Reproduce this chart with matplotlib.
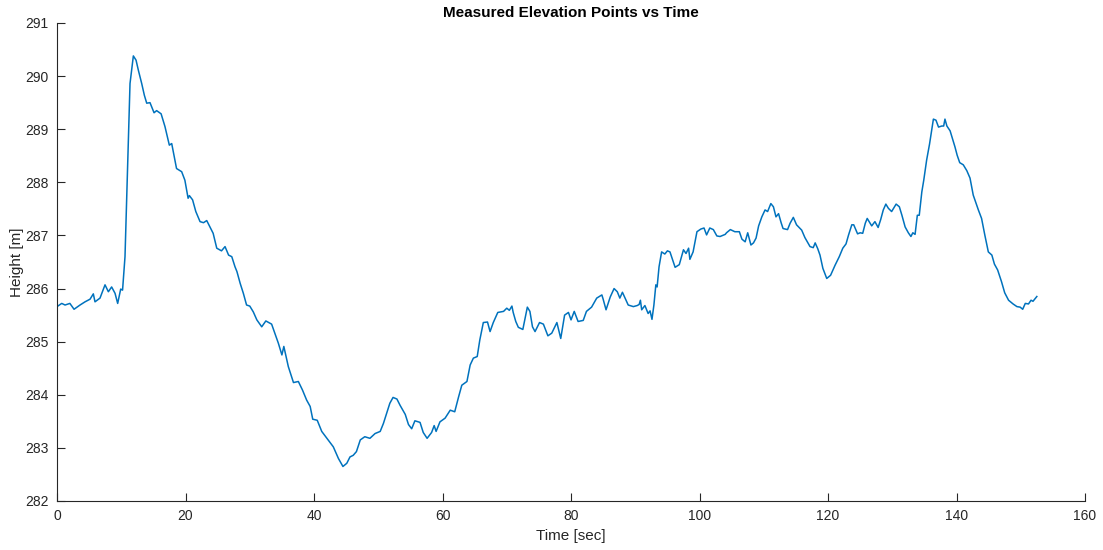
import matplotlib
matplotlib.use("Agg")
import matplotlib.pyplot as plt

# values
time_s = [0.0, 0.73, 1.25, 2.0, 2.65, 3.58, 4.36, 5.14, 5.65, 5.91, 6.69, 7.47, 7.99, 8.5, 9.03,
          9.44, 9.91, 10.2, 10.58, 10.95, 11.36, 11.88, 12.3, 12.66, 13.18, 13.59, 13.96, 14.47,
          15.1, 15.5, 16.2, 16.8, 17.48, 17.85, 18.6, 19.4, 19.9, 20.4, 20.6, 21.1, 21.6, 22.26,
          22.8, 23.3, 23.8, 24.3, 24.86, 25.6, 26.15, 26.7, 27.2, 27.7, 28.0, 28.5, 29.0, 29.5,
          30.0, 30.55, 31.1, 31.86, 32.5, 33.4, 33.9, 34.45, 35.0, 35.3, 36.0, 36.8, 37.56, 38.2,
          38.85, 39.4, 39.8, 40.5, 41.2, 42.0, 43.0, 43.8, 44.5, 45.1, 45.6, 46.1, 46.6, 47.2,
          47.9, 48.7, 49.5, 50.3, 50.8, 51.3, 51.8, 52.3, 52.9, 53.4, 54.2, 54.7, 55.2, 55.7,
          56.5, 57.0, 57.6, 58.3, 58.7, 59.0, 59.6, 60.4, 61.2, 61.9, 62.5, 63.0, 63.8, 64.3,
          64.8, 65.4, 65.8, 66.35, 67.0, 67.4, 67.9, 68.6, 69.5, 70.0, 70.4, 70.8, 71.0, 71.4,
          71.8, 72.5, 72.8, 73.2, 73.6, 74.0, 74.4, 75.1, 75.7, 76.4, 77.0, 77.8, 78.4, 79.0,
          79.6, 80.0, 80.5, 81.1, 81.9, 82.4, 83.2, 84.0, 84.4, 84.8, 85.0, 85.45, 86.1, 86.7,
          87.2, 87.6, 88.0, 88.9, 89.7, 90.3, 90.6, 90.8, 91.0, 91.5, 92.0, 92.3, 92.6, 92.9,
          93.2, 93.4, 93.7, 94.1, 94.6, 95.0, 95.4, 96.2, 96.85, 97.5, 97.9, 98.3, 98.5, 99.0,
          99.6, 100.2, 100.7, 101.1, 101.6, 102.15, 102.7, 103.2, 104.0, 104.2, 104.8, 105.5,
          106.2, 106.6, 107.1, 107.5, 108.0, 108.4, 108.8, 109.2, 109.7, 110.2, 110.6, 111.1,
          111.5, 111.9, 112.3, 112.7, 113.0, 113.7, 114.1, 114.6, 115.1, 115.9, 116.4, 117.2,
          117.7, 118.0, 118.4, 118.75, 119.2, 119.8, 120.4, 121.1, 121.75, 122.3, 122.8, 123.2,
          123.7, 124.0, 124.6, 125.0, 125.4, 125.8, 126.1, 126.8, 127.3, 127.8, 128.2, 128.6,
          129.0, 129.4, 129.9, 130.6, 131.1, 131.5, 132.0, 132.5, 132.9, 133.2, 133.55, 133.9,
          134.2, 134.6, 134.9, 135.35, 135.8, 136.1, 136.4, 136.8, 137.2, 137.7, 138.0, 138.2,
          138.5, 139.0, 139.4, 139.75, 140.1, 140.5, 141.05, 141.6, 142.1, 142.6, 143.4, 143.9,
          144.4, 144.95, 145.5, 145.9, 146.4, 147.0, 147.5, 148.1, 148.8, 149.4, 149.9, 150.3,
          150.7, 151.2, 151.6, 151.9, 152.5]
height_m = [285.66, 285.72, 285.69, 285.72, 285.61, 285.69, 285.75, 285.80, 285.90, 285.75,
            285.82, 286.07, 285.94, 286.03, 285.91, 285.72, 285.99, 285.97, 286.60, 288.17,
            289.86, 290.38, 290.30, 290.11, 289.86, 289.64, 289.49, 289.50, 289.31, 289.35,
            289.29, 289.05, 288.70, 288.73, 288.26, 288.20, 288.04, 287.70, 287.75, 287.67,
            287.45, 287.26, 287.24, 287.28, 287.16, 287.04, 286.76, 286.71, 286.79, 286.63,
            286.60, 286.41, 286.32, 286.10, 285.91, 285.69, 285.67, 285.56, 285.41, 285.28,
            285.39, 285.33, 285.16, 284.97, 284.75, 284.91, 284.53, 284.23, 284.25, 284.09,
            283.90, 283.78, 283.54, 283.52, 283.31, 283.18, 283.02, 282.80, 282.65, 282.71,
            282.83, 282.86, 282.93, 283.15, 283.21, 283.18, 283.27, 283.31, 283.46, 283.65,
            283.84, 283.95, 283.92, 283.80, 283.63, 283.44, 283.36, 283.51, 283.48, 283.29,
            283.18, 283.29, 283.42, 283.31, 283.49, 283.56, 283.71, 283.68, 283.96, 284.18,
            284.25, 284.56, 284.69, 284.72, 285.03, 285.36, 285.37, 285.19, 285.36, 285.55,
            285.57, 285.63, 285.59, 285.67, 285.55, 285.38, 285.27, 285.23, 285.41, 285.65,
            285.57, 285.28, 285.19, 285.36, 285.33, 285.11, 285.16, 285.36, 285.06, 285.50,
            285.55, 285.41, 285.57, 285.38, 285.40, 285.57, 285.65, 285.82, 285.85, 285.88,
            285.80, 285.60, 285.84, 286.00, 285.94, 285.82, 285.93, 285.69, 285.66, 285.68,
            285.70, 285.78, 285.60, 285.68, 285.53, 285.58, 285.42, 285.69, 286.07, 286.03,
            286.41, 286.69, 286.65, 286.71, 286.69, 286.40, 286.45, 286.73, 286.66, 286.76,
            286.55, 286.69, 287.07, 287.12, 287.14, 287.01, 287.14, 287.11, 286.99, 286.98,
            287.02, 287.05, 287.11, 287.07, 287.07, 286.93, 286.88, 287.05, 286.82, 286.86,
            286.95, 287.18, 287.35, 287.48, 287.45, 287.60, 287.54, 287.35, 287.41, 287.24,
            287.13, 287.11, 287.23, 287.34, 287.20, 287.10, 286.96, 286.79, 286.77, 286.86,
            286.75, 286.63, 286.38, 286.19, 286.25, 286.44, 286.60, 286.76, 286.84, 287.01,
            287.20, 287.20, 287.03, 287.05, 287.04, 287.23, 287.32, 287.18, 287.26, 287.15,
            287.30, 287.48, 287.59, 287.51, 287.45, 287.59, 287.54, 287.38, 287.16, 287.05,
            286.98, 287.05, 287.02, 287.38, 287.38, 287.82, 288.04, 288.42, 288.72, 288.95,
            289.19, 289.17, 289.04, 289.06, 289.06, 289.19, 289.06, 288.97, 288.81, 288.67,
            288.51, 288.37, 288.33, 288.22, 288.08, 287.76, 287.48, 287.32, 287.01, 286.69,
            286.63, 286.46, 286.35, 286.13, 285.92, 285.78, 285.71, 285.66, 285.65, 285.61,
            285.72, 285.71, 285.78, 285.76, 285.85]

x_ticks = list(range(0, 161, 20))
y_ticks = list(range(282, 292))

plt.rcParams['font.family'] = ['Liberation Sans', 'DejaVu Sans']
axis_col = '#262626'

fig = plt.figure(figsize=(11.03, 5.5), dpi=100)
ax = fig.add_axes([0.0517, 0.0891, 0.932, 0.8691])

ax.plot(time_s, height_m, color='#0072BD', lw=1.1)

ax.set_xlim(0, 160)
ax.set_ylim(282, 291)
ax.set_xticks(x_ticks)
ax.set_yticks(y_ticks)
ax.spines['top'].set_visible(False)
ax.spines['right'].set_visible(False)
for s in ['left', 'bottom']:
    ax.spines[s].set_color(axis_col)
    ax.spines[s].set_linewidth(0.8)
ax.tick_params(direction='in', length=6, width=0.8, colors=axis_col, labelsize=10, pad=6)

ax.set_title('Measured Elevation Points vs Time', fontsize=11, fontweight='bold', color='black', pad=4)
ax.set_xlabel('Time [sec]', fontsize=11, color=axis_col, labelpad=4)
ax.set_ylabel('Height [m]', fontsize=11, color=axis_col, labelpad=1)

fig.savefig('out.png', dpi=100)
